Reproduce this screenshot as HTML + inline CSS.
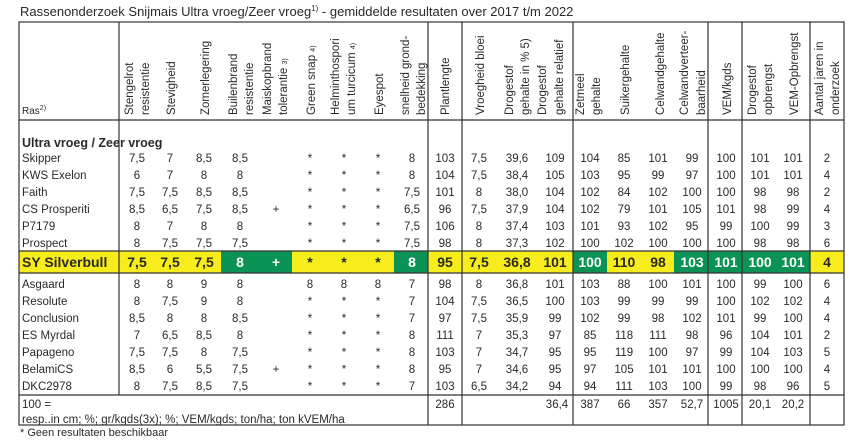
<!DOCTYPE html>
<html><head><meta charset="utf-8"><style>
body{margin:0;background:#fff;}
svg text{font-family:"Liberation Sans",sans-serif;fill:#2a2a2a;}
</style></head><body>
<svg width="858" height="440" xmlns="http://www.w3.org/2000/svg">
<text x="20" y="16" font-size="13">Rassenonderzoek Snijmais Ultra vroeg/Zeer vroeg<tspan font-size="8" dy="-5">1)</tspan><tspan dy="5"> - gemiddelde resultaten over 2017 t/m 2022</tspan></text>
<rect x="19" y="251" width="825" height="22" fill="#f7ec1c"/>
<rect x="221" y="251" width="71" height="22" fill="#0a9354"/>
<rect x="394" y="251" width="34" height="22" fill="#0a9354"/>
<rect x="573" y="251" width="34" height="22" fill="#0a9354"/>
<rect x="674" y="251" width="136" height="22" fill="#0a9354"/>
<g stroke="#333" stroke-width="1.2" fill="none">
<rect x="19" y="22" width="825" height="403"/>
<line x1="19" y1="120" x2="844" y2="120"/>
<line x1="19" y1="251" x2="844" y2="251"/>
<line x1="19" y1="273" x2="844" y2="273"/>
<line x1="19" y1="395" x2="844" y2="395"/>
<line x1="119" y1="22" x2="119" y2="395"/>
<line x1="428" y1="22" x2="428" y2="425"/>
<line x1="462" y1="22" x2="462" y2="425"/>
<line x1="573" y1="22" x2="573" y2="425"/>
<line x1="708" y1="22" x2="708" y2="425"/>
<line x1="742" y1="22" x2="742" y2="425"/>
<line x1="810" y1="22" x2="810" y2="425"/>
</g>
<g font-size="11">
<text x="22" y="114" font-size="10">Ras<tspan font-size="7" dy="-4">2)</tspan></text>
</g>
<g font-size="11.5">
<text transform="translate(133,115) rotate(-90)">Stengelrot</text>
<text transform="translate(149,115) rotate(-90)">resistentie</text>
<text transform="translate(175,115) rotate(-90)">Stevigheid</text>
<text transform="translate(209,115) rotate(-90)">Zomerlegering</text>
<text transform="translate(237,115) rotate(-90)">Builenbrand</text>
<text transform="translate(253,115) rotate(-90)">resistentie</text>
<text transform="translate(271,115) rotate(-90)">Maiskopbrand</text>
<text transform="translate(287,115) rotate(-90)">tolerantie <tspan font-size="7">3)</tspan></text>
<text transform="translate(315,115) rotate(-90)">Green snap <tspan font-size="7">4)</tspan></text>
<text transform="translate(339,115) rotate(-90)">Helminthospori</text>
<text transform="translate(355,115) rotate(-90)">um turcicum <tspan font-size="7">4)</tspan></text>
<text transform="translate(383,115) rotate(-90)">Eyespot</text>
<text transform="translate(409,115) rotate(-90)">snelheid grond-</text>
<text transform="translate(425,115) rotate(-90)">bedekking</text>
<text transform="translate(449,115) rotate(-90)">Plantlengte</text>
<text transform="translate(484,115) rotate(-90)">Vroegheid bloei</text>
<text transform="translate(513,115) rotate(-90)">Drogestof</text>
<text transform="translate(529,115) rotate(-90)">gehalte in % 5)</text>
<text transform="translate(546,115) rotate(-90)">Drogestof</text>
<text transform="translate(563,115) rotate(-90)">gehalte relatief</text>
<text transform="translate(584,115) rotate(-90)">Zetmeel</text>
<text transform="translate(600,115) rotate(-90)">gehalte</text>
<text transform="translate(629,115) rotate(-90)">Suikergehalte</text>
<text transform="translate(664,115) rotate(-90)">Celwandgehalte</text>
<text transform="translate(688,115) rotate(-90)">Celwandverteer-</text>
<text transform="translate(705,115) rotate(-90)">baarheid</text>
<text transform="translate(731,115) rotate(-90)">VEM/kgds</text>
<text transform="translate(756,115) rotate(-90)">Drogestof</text>
<text transform="translate(772,115) rotate(-90)">opbrengst</text>
<text transform="translate(798,115) rotate(-90)">VEM-Opbrengst</text>
<text transform="translate(823,115) rotate(-90)">Aantal jaren in</text>
<text transform="translate(839,115) rotate(-90)">onderzoek</text>
</g>
<text x="22" y="147" font-size="12.5" font-weight="bold">Ultra vroeg / Zeer vroeg</text>
<g font-size="11.5" text-anchor="middle" id="rows"></g>
<text x="22" y="408" font-size="11.5">100 =</text>
<text x="22" y="423" font-size="11.5">resp..in cm; %; gr/kgds(3x); %; VEM/kgds; ton/ha; ton kVEM/ha</text>
<g font-size="11.5" text-anchor="middle">
<text x="445" y="408">286</text><text x="557" y="408">36,4</text><text x="590" y="408">387</text><text x="624" y="408">66</text><text x="658" y="408">357</text><text x="692" y="408">52,7</text><text x="726" y="408">1005</text><text x="760" y="408">20,1</text><text x="793" y="408">20,2</text>
</g>
<text x="20" y="436" font-size="11">* Geen resultaten beschikbaar</text>
<script>
var cols=[137,170,204,240,276,310,344,378,412,445,479,517,555,590,624,658,692,726,760,793,827];
var data=[
["Skipper",158,"7,5 7 8,5 8,5 _ * * * 8 103 7,5 39,6 109 104 85 101 99 100 101 101 2"],
["KWS Exelon",175,"6 7 8 8 _ * * * 8 104 7,5 38,4 105 103 95 99 97 100 101 101 4"],
["Faith",192,"7,5 7,5 8,5 8,5 _ * * * 7,5 101 8 38,0 104 102 84 102 100 100 98 98 2"],
["CS Prosperiti",209,"8,5 6,5 7,5 8,5 + * * * 6,5 96 7,5 37,9 104 102 79 101 105 101 98 99 4"],
["P7179",226,"8 7 8 8 _ * * * 7,5 106 8 37,4 103 101 93 102 95 99 100 99 3"],
["Prospect",243,"8 7,5 7,5 7,5 _ * * * 7,5 98 8 37,3 102 100 102 100 100 100 98 98 6"],
["SY Silverbull",262,"7,5 7,5 7,5 8 + * * * 8 95 7,5 36,8 101 100 110 98 103 101 100 101 4"],
["Asgaard",284,"8 8 9 8 _ 8 8 8 7 98 8 36,8 101 103 88 100 101 100 99 100 6"],
["Resolute",301,"8 7,5 9 8 _ * * * 7 104 7,5 36,5 100 103 99 99 99 100 102 102 4"],
["Conclusion",318,"8,5 8 8 8,5 _ * * * 7 97 7,5 35,9 99 102 99 98 102 101 99 100 4"],
["ES Myrdal",335,"7 6,5 8,5 8 _ * * * 8 111 7 35,3 97 85 118 111 98 96 104 101 2"],
["Papageno",352,"7,5 7,5 8 7,5 _ * * * 8 103 7 34,7 95 95 119 100 97 99 104 103 5"],
["BelamiCS",369,"8,5 6 5,5 7,5 + * * * 8 95 7 34,6 95 97 105 101 101 100 100 100 4"],
["DKC2978",386,"8 7,5 8,5 7,5 _ * * * 7 103 6,5 34,2 94 94 111 103 100 99 98 96 5"]];
var white=[3,4,8,13,16,17,18,19];
var g=document.getElementById('rows'),ns="http://www.w3.org/2000/svg";
data.forEach(function(r){
 var sb=r[0]=="SY Silverbull";
 var t=document.createElementNS(ns,'text');t.setAttribute('x',22);t.setAttribute('y',r[1]+(sb?5:4));
 t.setAttribute('text-anchor','start');if(sb){t.setAttribute('font-weight','bold');t.setAttribute('font-size','14');}
 t.textContent=r[0];g.appendChild(t);
 r[2].split(' ').forEach(function(v,i){if(v=="_")return;
  var e=document.createElementNS(ns,'text');e.setAttribute('x',cols[i]);e.setAttribute('y',r[1]+(sb?5:4));
  if(sb){e.setAttribute('font-weight','bold');e.setAttribute('font-size','14');if(white.indexOf(i)>=0)e.setAttribute('style','fill:#fff');}
  e.textContent=v;g.appendChild(e);});
});
</script>
</svg>
</body></html>
